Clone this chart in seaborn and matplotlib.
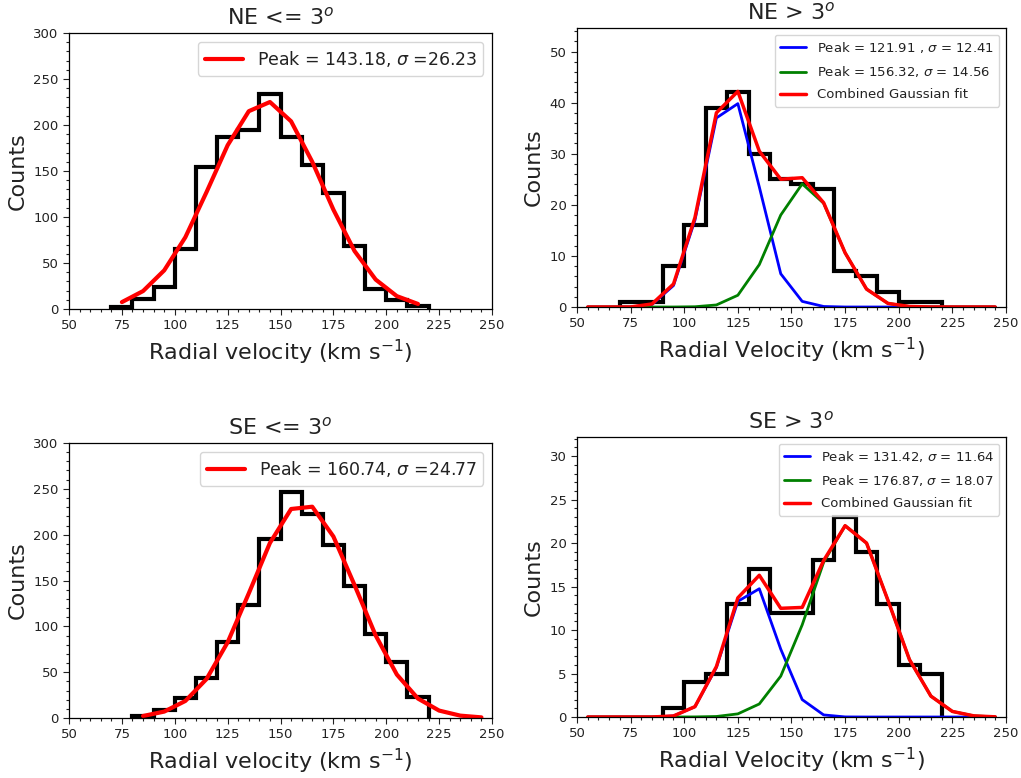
import numpy as np
import matplotlib
matplotlib.use('Agg')
import matplotlib.pyplot as plt
from matplotlib.ticker import MultipleLocator
import seaborn as sns

sns.set_style('ticks')
plt.rcParams['font.family'] = ['DejaVu Sans']
plt.rcParams['axes.edgecolor'] = 'black'
plt.rcParams['text.color'] = '#222222'
plt.rcParams['axes.labelcolor'] = '#222222'
plt.rcParams['xtick.color'] = '#222222'
plt.rcParams['ytick.color'] = '#222222'

# histogram bins (edges, width 10) and counts
ne_in_edges = [70, 80, 90, 100, 110, 120, 130, 140, 150, 160, 170, 180, 190, 200, 210, 220]
ne_in_counts = [2, 11, 24, 65, 154, 187, 195, 234, 187, 156, 126, 68, 22, 10, 3]

ne_out_edges = [70, 80, 90, 100, 110, 120, 130, 140, 150, 160, 170, 180, 190, 200, 210, 220]
ne_out_counts = [1, 1, 8, 16, 39, 42, 30, 25, 24, 23, 7, 6, 3, 1, 1]

se_in_edges = [80, 90, 100, 110, 120, 130, 140, 150, 160, 170, 180, 190, 200, 210, 220]
se_in_counts = [2, 9, 22, 44, 83, 123, 195, 247, 222, 189, 144, 92, 61, 23]

se_out_edges = [90, 100, 110, 120, 130, 140, 150, 160, 170, 180, 190, 200, 210, 220]
se_out_counts = [1, 4, 5, 13, 17, 12, 12, 18, 23, 19, 13, 6, 5]

# fitted curves
ne_in_fit_x = [75, 85, 95, 105, 115, 125, 135, 145, 155, 165, 175, 185, 195, 205, 215]
ne_in_fit = [7.5, 19.5, 42, 78, 127, 178, 215, 225, 204, 160, 108, 63, 32, 14, 5.5]

se_in_fit_x = [85, 95, 105, 115, 125, 135, 145, 155, 165, 175, 185, 195, 205, 215, 225, 235, 245]
se_in_fit = [2.2, 7, 18.6, 42.5, 82.6, 136, 191, 228, 230.5, 198, 145, 90, 47.4, 21.2, 8.1, 2.6, 0.7]

fit_x = [55, 65, 75, 85, 95, 105, 115, 125, 135, 145, 155, 165, 175, 185, 195, 205, 215, 225, 235, 245]
ne_out_blue = [0, 0, 0, 0.5, 4.2, 17, 37, 39.8, 23.5, 6.5, 1.1, 0.1, 0, 0, 0, 0, 0, 0, 0, 0]
ne_out_green = [0, 0, 0, 0, 0, 0.05, 0.4, 2.3, 8.3, 18, 24.1, 20.3, 10.6, 3.5, 0.7, 0.1, 0, 0, 0, 0]
ne_out_red = [0, 0, 0, 0.6, 4.5, 17.5, 38, 42.2, 30.5, 25, 25.3, 20.4, 10.6, 3.5, 0.7, 0.1, 0, 0, 0, 0]

se_out_blue = [0, 0, 0, 0, 0.12, 1.18, 5.7, 13.3, 14.75, 7.8, 2.0, 0.24, 0.01, 0, 0, 0, 0, 0, 0, 0]
se_out_green = [0, 0, 0, 0, 0, 0.01, 0.06, 0.36, 1.5, 4.7, 10.6, 17.8, 22.0, 20.0, 13.4, 6.6, 2.4, 0.64, 0.13, 0.02]
se_out_red = [0, 0, 0, 0, 0.12, 1.19, 5.8, 13.7, 16.3, 12.5, 12.6, 18.0, 22.0, 20.0, 13.4, 6.6, 2.4, 0.64, 0.13, 0.02]

fig = plt.figure(figsize=(10.21, 7.78), dpi=100)
ax1 = fig.add_axes([0.0676, 0.6028, 0.4143, 0.3548])
ax2 = fig.add_axes([0.5651, 0.6054, 0.4202, 0.3586])
ax3 = fig.add_axes([0.0676, 0.0771, 0.4143, 0.3535])
ax4 = fig.add_axes([0.5651, 0.0784, 0.4202, 0.3599])


def style_axes(ax, title, xlabel, ylim, ymajor, yminor):
    ax.set_xlim(50, 250)
    ax.set_ylim(*ylim)
    ax.xaxis.set_major_locator(MultipleLocator(25))
    ax.xaxis.set_minor_locator(MultipleLocator(5))
    ax.yaxis.set_major_locator(MultipleLocator(ymajor))
    ax.yaxis.set_minor_locator(MultipleLocator(yminor))
    ax.tick_params(which='both', direction='out', labelsize=9.5, width=0.8)
    ax.tick_params(which='major', length=4)
    ax.tick_params(which='minor', length=2.5)
    for s in ax.spines.values():
        s.set_linewidth(0.9)
        s.set_visible(True)
    ax.set_title(title, fontsize=16)
    ax.set_xlabel(xlabel, fontsize=16)
    ax.set_ylabel('Counts', fontsize=16)


# NE <= 3
ax1.stairs(ne_in_counts, ne_in_edges, color='black', linewidth=3)
sns.lineplot(x=ne_in_fit_x, y=ne_in_fit, ax=ax1, color='red', linewidth=3,
             label=r'Peak = 143.18, $\sigma$ =26.23')
style_axes(ax1, r'NE <= 3$^o$', r'Radial velocity (km s$^{-1}$)', (0, 300), 50, 10)
ax1.legend(loc='upper right', fontsize=12.5, handlelength=2.2)

# NE > 3
ax2.stairs(ne_out_counts, ne_out_edges, color='black', linewidth=3)
sns.lineplot(x=fit_x, y=ne_out_blue, ax=ax2, color='blue', linewidth=2,
             label=r'Peak = 121.91 , $\sigma$ = 12.41')
sns.lineplot(x=fit_x, y=ne_out_green, ax=ax2, color='green', linewidth=2,
             label=r'Peak = 156.32, $\sigma$ = 14.56')
sns.lineplot(x=fit_x, y=ne_out_red, ax=ax2, color='red', linewidth=2.5,
             label='Combined Gaussian fit')
style_axes(ax2, r'NE > 3$^o$', r'Radial Velocity (km s$^{-1}$)', (0, 54.6), 10, 2)
ax2.legend(loc='upper right', fontsize=9.5, labelspacing=0.7)

# SE <= 3
ax3.stairs(se_in_counts, se_in_edges, color='black', linewidth=3)
sns.lineplot(x=se_in_fit_x, y=se_in_fit, ax=ax3, color='red', linewidth=3,
             label=r'Peak = 160.74, $\sigma$ =24.77')
style_axes(ax3, r'SE <= 3$^o$', r'Radial velocity (km s$^{-1}$)', (0, 300), 50, 10)
ax3.legend(loc='upper right', fontsize=12.5, handlelength=2.2)

# SE > 3
ax4.stairs(se_out_counts, se_out_edges, color='black', linewidth=3)
sns.lineplot(x=fit_x, y=se_out_blue, ax=ax4, color='blue', linewidth=2,
             label=r'Peak = 131.42, $\sigma$ = 11.64')
sns.lineplot(x=fit_x, y=se_out_green, ax=ax4, color='green', linewidth=2,
             label=r'Peak = 176.87, $\sigma$ = 18.07')
sns.lineplot(x=fit_x, y=se_out_red, ax=ax4, color='red', linewidth=2.5,
             label='Combined Gaussian fit')
style_axes(ax4, r'SE > 3$^o$', r'Radial Velocity (km s$^{-1}$)', (0, 32.2), 5, 1)
ax4.legend(loc='upper right', fontsize=9.5, labelspacing=0.7)

fig.savefig('out.png', dpi=100)
